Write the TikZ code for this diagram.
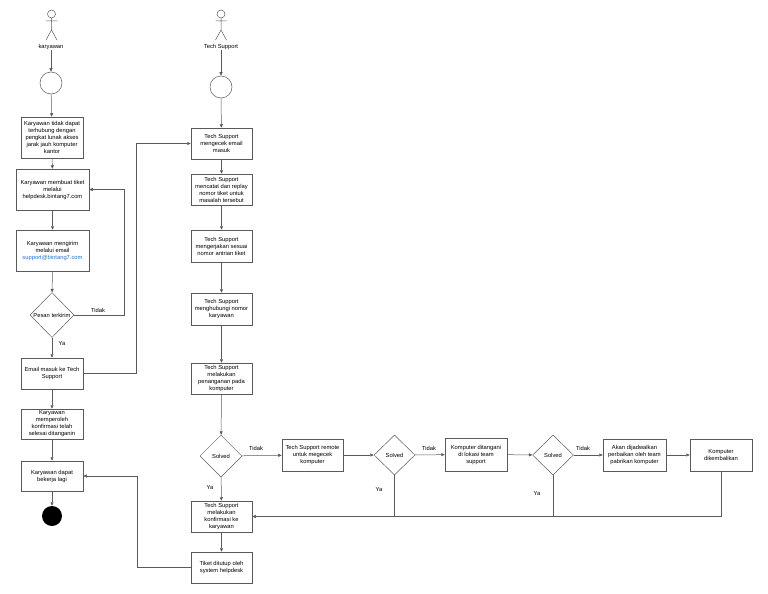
\documentclass[tikz,border=0pt]{standalone}
\usepackage{fontspec}
\setmainfont{Liberation Sans}
\usepackage{xcolor}
\usetikzlibrary{arrows.meta,shapes.geometric}
\definecolor{linegray}{HTML}{5A5A5A}
\definecolor{linkblue}{HTML}{1F74C9}

\begin{document}
\begin{tikzpicture}[
        x=1pt, y=-1pt,
        font=\fontsize{5.8}{7}\selectfont,
        box/.style = {draw=linegray, rectangle, align=center, inner sep=1pt, minimum width=#1},
        box/.default = 61pt,
        decision/.style = {draw=linegray, diamond, inner sep=0pt, minimum width=42pt, minimum height=42pt},
        startnode/.style = {draw=linegray, circle, inner sep=0pt, minimum size=22pt},
        endnode/.style = {circle, fill=black, inner sep=0pt, minimum size=20pt},
        flow/.style = {draw=linegray, -{Triangle[length=3.5pt,width=3pt]}},
        edge/.style = {draw=linegray},
        lbl/.style = {inner sep=0pt},
        line width=0.5pt
    ]
    \useasboundingbox (0,0) rectangle (768,594);
    % actors
    \draw[linegray] (51.5,14) circle (4pt) (51.5,18) -- (51.5,30) (46,21) -- (57,21)
        (46,40) -- (51.5,30) -- (57,40);
    \node[lbl] (actorK) at (51,47) {karyawan};
    \draw[linegray] (221,14) circle (4pt) (221,18) -- (221,30) (215.5,21) -- (226.5,21)
        (215.5,40) -- (221,30) -- (226.5,40);
    \node[lbl] (actorT) at (221,47) {Tech Support};
    % karyawan column
    \node[startnode] (startK) at (51,83) {};
    \node[box=62pt, minimum height=41pt] (k1) at (52,137.5) {Karyawan tidak dapat\\terhubung dengan\\pengkat lunak akses\\jarak jauh komputer\\kantor};
    \node[box=73pt, minimum height=41pt] (k2) at (52.5,189.5) {Karyawan membuat tiket\\melalui\\helpdesk.bintang7.com};
    \node[box=73pt, minimum height=41pt] (k3) at (52.5,250.5) {Karyawan mengirim\\melalui email\\\textcolor{linkblue}{support@bintang7.com}};
    \node[decision, minimum width=44pt, minimum height=45pt,
        label={[lbl]center:Pesan terkirim}] (dK) at (52,315) {};
    \node[box=62pt, minimum height=31pt] (k4) at (52,373.5) {Email masuk ke Tech\\Support};
    \node[box=62pt, minimum height=30pt] (k5) at (52,424) {Karyawan\\memperoleh\\konfirmasi telah\\selesai ditanganin};
    \node[box=62pt, minimum height=30pt] (k6) at (52,476) {Karyawan dapat\\bekerja lagi};
    \node[endnode] (endK) at (52,516) {};
    % tech support column
    \node[startnode] (startT) at (221,87) {};
    \node[box, minimum height=31pt] (t1) at (221.5,143.5) {Tech Support\\mengecek email\\masuk};
    \node[box, minimum height=31pt] (t2) at (221.5,189.5) {Tech Support\\mencatat dan replay\\nomor tiket untuk\\masalah tersebut};
    \node[box, minimum height=32pt] (t3) at (221.5,246) {Tech Support\\mengerjakan sesuai\\nomor antrian tiket};
    \node[box, minimum height=32pt] (t4) at (221.5,309) {Tech Support\\menghubungi nomor\\karyawan};
    \node[box, minimum height=31pt] (t5) at (221.5,378.5) {Tech Support\\melakukan\\penanganan pada\\komputer};
    \node[decision, label={[lbl]center:Solved}] (d1) at (221,456) {};
    \node[box, minimum height=31pt] (t6) at (221.5,516.5) {Tech Support\\melakukan\\konfirmasi ke\\karyawan};
    \node[box, minimum height=31pt] (t7) at (221.5,567.5) {Tiket ditutup oleh\\system helpdesk};
    % repair row
    \node[box, minimum height=32pt] (r1) at (312.5,455) {Tech Support remote\\untuk megecek\\komputer};
    \node[decision, minimum width=41pt, minimum height=40pt, label={[lbl]center:Solved}] (d2) at (394.5,455) {};
    \node[box=62pt, minimum height=33pt] (r2) at (476,454.5) {Komputer ditangani\\di lokasi team\\support};
    \node[decision, minimum width=41pt, minimum height=40pt, label={[lbl]center:Solved}] (d3) at (553,455) {};
    \node[box=63pt, minimum height=32pt] (r3) at (634.5,455) {Akan dijadwalkan\\perbaikan oleh team\\pabrikan komputer};
    \node[box=62pt, minimum height=32pt] (r4) at (721,455) {Komputer\\dikembalikan};
    % labels
    \node[lbl] (tidakK) at (98,310) {Tidak};
    \node[lbl] (yaK) at (62,344) {Ya};
    \node[lbl] (tidak1) at (256,448) {Tidak};
    \node[lbl] (ya1) at (210,488) {Ya};
    \node[lbl] (tidak2) at (429,448) {Tidak};
    \node[lbl] (ya2) at (379,490) {Ya};
    \node[lbl] (tidak3) at (583,448) {Tidak};
    \node[lbl] (ya3) at (537,494) {Ya};
    % karyawan flow
    \draw[flow] (actorK) -- (startK);
    \draw[flow] (startK) -- (k1);
    \draw[flow] (k1) -- (k2);
    \draw[flow] (k2) -- (k3);
    \draw[flow] (k3) -- (dK);
    \draw[flow] (dK.east) -- ++(50,0) |- (k2.east);
    \draw[flow] (dK) -- (k4);
    \draw[flow] (k4.east) -- ++(53,0) |- (t1.west);
    \draw[flow] (k4) -- (k5);
    \draw[flow] (k5) -- (k6);
    \draw[flow] (k6) -- (endK);
    % tech support flow
    \draw[flow] (actorT) -- (startT);
    \draw[flow] (startT) -- (t1);
    \draw[flow] (t1) -- (t2);
    \draw[flow] (t2) -- (t3);
    \draw[flow] (t3) -- (t4);
    \draw[flow] (t4) -- (t5);
    \draw[flow] (t5) -- (d1);
    \draw[flow] (d1) -- (t6);
    \draw[flow] (t6) -- (t7);
    \draw[flow] (t7.west) -- ++(-54,0) |- (k6.east);
    \draw[flow] (d1) -- (r1);
    \draw[flow] (r1) -- (d2);
    \draw[flow] (d2) -- (r2);
    \draw[flow] (r2) -- (d3);
    \draw[flow] (d3) -- (r3);
    \draw[flow] (r3) -- (r4);
    \draw[flow] (r4.south) |- (t6.east);
    \draw[edge] (d2.south) -- (d2.south |- t6.east);
    \draw[edge] (d3.south) -- (d3.south |- t6.east);
\end{tikzpicture}
\end{document}
